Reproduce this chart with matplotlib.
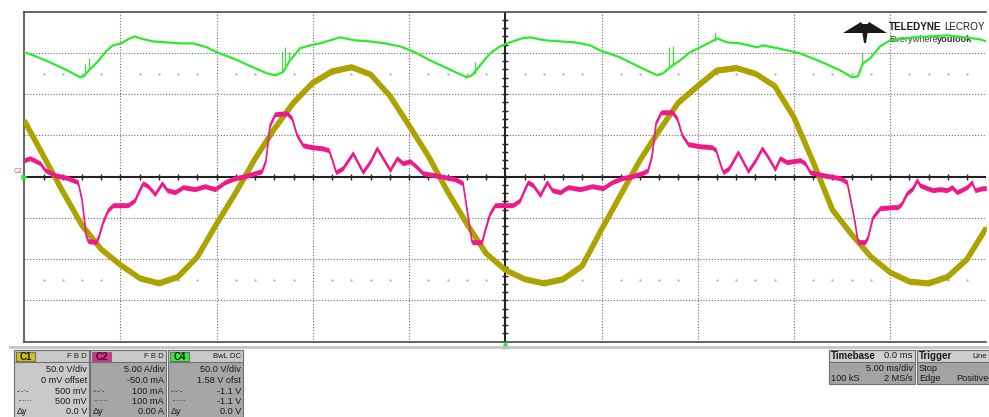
import matplotlib.pyplot as plt
from matplotlib.patches import Rectangle, Polygon
import numpy as np

plt.rcParams["font.family"] = ["Liberation Sans", "DejaVu Sans"]

# channel scales (per division)
C1_VDIV = 50.0
C2_ADIV = 5.0
C4_VDIV = 50.0

# C1 - line voltage [V], one sample per ms
c1_time = [-25, -24, -23, -22, -21, -20, -19, -18, -17, -16, -15, -14, -13,
           -12, -11, -10, -9, -8, -7, -6, -5, -4, -3, -2, -1, 0, 1, 2, 3, 4,
           5, 6, 7, 8, 9, 10, 11, 12, 13, 14, 15, 16, 17, 18, 19, 20, 21, 22,
           23, 24, 25]
c1_volts = [68, 25, -18, -59, -88, -107, -123, -129, -121, -97, -57, -19, 22,
            58, 90, 114, 128, 133, 124, 98, 62, 25, -18, -57, -93, -113, -124,
            -129, -124, -108, -64, -22, 20, 56, 90, 110, 129, 132, 125, 110,
            72, 18, -40, -70, -97, -116, -127, -129, -121, -100, -62]

# C2 - current [A]
c2_time = [-25.0, -24.70, -24.18, -23.92, -23.40, -22.73, -22.21, -22.00,
           -21.79, -21.69, -21.27, -21.12, -20.91, -20.65, -20.39, -19.61,
           -19.25, -19.09, -18.83, -18.57, -18.21, -17.84, -17.58, -17.17,
           -16.75, -16.13, -15.61, -15.09, -14.57, -14.05, -13.53, -13.01,
           -12.65, -12.44, -12.23, -11.97, -11.35, -11.09, -10.83, -10.52,
           -10.05, -9.53, -9.17, -8.96, -8.80, -8.44, -7.92, -7.40, -6.98,
           -6.67, -6.36, -5.99, -5.63, -5.32, -4.95, -4.59, -4.28, -3.40,
           -2.62, -2.20, -1.99, -1.73, -1.21, -1.05, -0.79, -0.53, 0.40, 0.77,
           0.92, 1.18, 1.44, 1.81, 2.17, 2.43, 2.85, 3.26, 3.89, 4.51, 5.08,
           5.55, 6.07, 6.59, 7.11, 7.42, 7.63, 7.84, 8.10, 8.67, 8.93, 9.19,
           9.50, 10.12, 10.75, 10.95, 11.16, 11.32, 11.63, 12.10, 12.62, 13.04,
           13.35, 13.66, 14.02, 14.28, 14.64, 15.32, 15.58, 15.84, 16.52,
           17.40, 17.76, 17.92, 18.18, 18.33, 18.70, 18.85, 19.11, 19.48,
           20.15, 20.41, 20.62, 20.88, 21.19, 21.40, 21.55, 21.92, 22.23,
           22.60, 22.96, 23.22, 23.48, 24.00, 24.26, 24.42, 24.83, 25.0]
c2_amps = [2.0, 2.24, 1.63, 0.79, 0.18, -0.18, -0.67, -2.85, -7.08, -7.81,
           -7.93, -7.21, -5.51, -4.06, -3.45, -3.45, -2.85, -2.00, -0.79,
           -1.15, -2.12, -0.79, -1.63, -1.88, -1.27, -1.51, -1.15, -1.51,
           -0.67, -0.18, 0.06, 0.42, 0.67, 2.0, 6.24, 7.57, 7.69, 7.08, 5.03,
           3.81, 3.57, 3.45, 3.21, 1.76, 0.54, 1.03, 2.85, 0.54, 2.0, 3.45,
           2.24, 0.79, 2.24, 1.63, 1.88, 1.15, 0.42, 0.06, -0.30, -0.79,
           -4.06, -7.93, -7.93, -6.48, -4.42, -3.45, -3.45, -2.85, -2.0,
           -0.67, -1.03, -2.24, -0.67, -1.63, -1.88, -1.27, -1.51, -1.15,
           -1.39, -0.67, -0.18, 0.06, 0.42, 0.79, 2.6, 6.6, 7.81, 7.81, 7.08,
           5.03, 3.94, 3.69, 3.57, 3.21, 1.63, 0.54, 1.03, 2.97, 0.67, 2.12,
           3.45, 2.36, 0.91, 2.24, 1.76, 2.0, 1.63, 0.54, 0.18, -0.18, -0.67,
           -2.48, -5.63, -7.93, -7.93, -7.33, -4.90, -3.81, -3.69, -3.69,
           -3.21, -2.0, -1.39, -0.42, -1.03, -1.39, -1.63, -1.51, -1.63,
           -1.27, -1.88, -1.27, -0.67, -1.63, -1.39, -1.39]

# C4 - rectified bus voltage [V]
c4_time = [-25.0, -24.53, -23.66, -22.78, -22.10, -21.90, -21.74, -21.22,
           -20.70, -20.39, -19.97, -19.51, -19.25, -18.99, -18.31, -17.58,
           -16.91, -16.23, -15.51, -14.99, -14.15, -13.11, -12.39, -11.97,
           -11.56, -11.19, -10.67, -10.15, -9.63, -9.11, -8.59, -7.81, -7.03,
           -6.25, -5.47, -4.69, -3.91, -3.13, -2.46, -1.99, -1.73, -1.31,
           -0.79, -0.27, 0.25, 0.87, 1.29, 2.07, 2.85, 3.63, 4.41, 4.92, 5.96,
           7.00, 7.89, 8.20, 8.56, 9.08, 9.60, 10.12, 10.64, 11.01, 11.53,
           12.20, 13.09, 13.40, 13.92, 14.64, 15.32, 16.36, 17.40, 18.02,
           18.33, 18.59, 18.96, 19.48, 20.00, 21.19, 22.08, 22.96, 23.90,
           24.68, 25.0]
c4_volts = [150.7, 147.1, 138.6, 129.0, 120.5, 121.7, 126.5, 138.6, 153.2,
            159.2, 161.6, 167.7, 170.1, 167.7, 164.0, 162.8, 161.6, 161.6,
            156.8, 150.7, 143.4, 132.6, 125.3, 122.9, 126.5, 141.0, 155.6,
            159.2, 161.6, 165.3, 168.9, 165.3, 164.0, 161.6, 158.0, 150.7,
            141.0, 132.6, 125.3, 120.5, 122.9, 135.0, 149.5, 158.0, 162.8,
            167.7, 168.9, 165.3, 164.0, 162.8, 159.2, 153.2, 144.7, 132.6,
            122.9, 125.3, 132.6, 141.0, 150.7, 156.8, 162.8, 167.7, 162.8,
            161.6, 156.8, 159.2, 156.8, 153.2, 149.5, 139.8, 129.0, 120.5,
            121.7, 137.4, 143.4, 158.0, 165.3, 168.9, 170.1, 171.3, 168.9,
            166.5, 164.0]

# switching spikes on C4
spike_time = [-21.84, -21.63, -11.60, -11.45, -11.24, -1.57, 8.51, 8.72, 10.90, 18.54]
spike_base = [124, 129, 126.5, 130, 138.6, 125, 131.4, 135, 165, 133.8]
spike_top = [136, 143.5, 152, 157, 150.7, 138.6, 156.8, 158, 176, 150.7]

YELLOW = "#ACA300"
PINK = "#EE1A8C"
GREEN = "#2EEA2E"

W, H = 989, 417


def fx(x):
    return x / W


def fy(y):
    return 1 - y / H


def draw_graticule(ax):
    for x in [-20, -15, -10, -5, 5, 10, 15, 20]:
        ax.axvline(x, color="#6a6a6a", ls=(0, (1, 1.6)), lw=0.8, zorder=1)
    for y in [-3, -2, -1, 1, 2, 3]:
        ax.axhline(y, color="#6a6a6a", ls=(0, (1, 1.6)), lw=0.8, zorder=1)

    # centre cross with minor ticks
    ax.axhline(0, color="#222222", lw=1.5, zorder=1.5)
    ax.axvline(0, color="#222222", lw=1.5, zorder=1.5)
    ms_ticks = np.arange(-24, 25)
    ax.plot(ms_ticks, np.zeros_like(ms_ticks), ls="none", marker="|", ms=4,
            mew=1, color="#222222", zorder=1.5)
    div_ticks = np.arange(-3.8, 4.0, 0.2)
    ax.plot(np.zeros_like(div_ticks), div_ticks, ls="none", marker="_", ms=4,
            mew=1, color="#222222", zorder=1.5)

    # faint dot rows at +/- 2.5 div
    dots = [t for t in range(-24, 25) if t % 5 != 0]
    for level in (2.5, -2.5):
        ax.plot(dots, [level] * len(dots), ls="none", marker="s", ms=0.6,
                color="#b0b0b0", zorder=1)

    ax.set_xlim(-25, 25)
    ax.set_ylim(-4, 4)
    ax.set_xticks([])
    ax.set_yticks([])
    for side in ("left", "top", "bottom"):
        ax.spines[side].set_color("#4a4a4a")
        ax.spines[side].set_linewidth(1.2)
    ax.spines["right"].set_visible(False)


def draw_logo(ax, fig):
    tf = fig.transFigure
    shapes = [
        [(843, 33), (861, 22), (863, 25), (863, 33)],
        [(887, 33), (869, 22), (867, 25), (867, 33)],
        [(861, 24), (869, 24), (866, 43), (864, 43)],
    ]
    for pts in shapes:
        ax.add_patch(Polygon([(fx(x), fy(y)) for x, y in pts], closed=True,
                             facecolor="#1a1a1a", lw=0, transform=tf,
                             zorder=1, clip_on=False))
    ax.text(fx(889), fy(27), "TELEDYNE", transform=tf, fontsize=7.1,
            fontweight="bold", color="#1a1a1a", va="center", ha="left", zorder=1)
    ax.text(fx(985), fy(27), "LECROY", transform=tf, fontsize=7.1,
            color="#1a1a1a", va="center", ha="right", zorder=1)
    ax.text(fx(889), fy(40), "Everywhere", transform=tf, fontsize=6.6,
            color="#333333", va="center", ha="left", zorder=1)
    ax.text(fx(937), fy(40), "youlook", transform=tf, fontsize=6.6,
            fontweight="bold", color="#333333", va="center", ha="left", zorder=1)


def draw_traces(ax):
    t1 = np.array(c1_time)
    y1 = np.array(c1_volts) / C1_VDIV
    ax.fill_between(t1, y1 - 0.07, y1 + 0.07, color=YELLOW, lw=0, zorder=3)
    ax.plot(t1, y1, color=YELLOW, lw=4, solid_capstyle="butt", zorder=3)

    t2 = np.array(c2_time)
    y2 = np.array(c2_amps) / C2_ADIV
    ax.fill_between(t2, y2 - 0.06, y2 + 0.06, color=PINK, lw=0, zorder=4)
    ax.plot(t2, y2, color=PINK, lw=1.1, zorder=4)

    t4 = np.array(c4_time)
    y4 = np.array(c4_volts) / C4_VDIV
    ax.plot(t4, y4, color=GREEN, lw=1.6, zorder=5)
    ax.vlines(spike_time, np.array(spike_base) / C4_VDIV,
              np.array(spike_top) / C4_VDIV, color=GREEN, lw=0.8, zorder=5)

    # trigger position and C2 ground marker
    ax.plot(0, -4.09, marker="^", ms=5, color="#22DD22", clip_on=False, zorder=6)
    ax.plot(-25, 0, marker=">", ms=3.5, color=GREEN, clip_on=False, zorder=6)
    ax.text(-25.1, 0.12, "C2", fontsize=5, color="#c8508a", ha="right",
            va="center", zorder=6)


def box(fig, x0, y0, x1, y1, color):
    fig.add_artist(Rectangle((fx(x0), fy(y1)), (x1 - x0) / W, (y1 - y0) / H,
                             transform=fig.transFigure, facecolor=color,
                             edgecolor="#707070", lw=0.8))


def label(fig, x, y, s, ha="right", size=6.6, weight="normal"):
    fig.text(fx(x), fy(y), s, fontsize=size, ha=ha, va="center",
             fontweight=weight, color="#1a1a1a")


def draw_channel_box(fig, x0, x1, name, tag_color, flags, rows, light_body):
    box(fig, x0, 350, x1, 418, "#c9c9c9" if light_body else "#a6a6a6")
    box(fig, x0, 350, x1, 362, "#c9c9c9")
    box(fig, x0 + 2, 352, x0 + 21, 361, tag_color)
    label(fig, x0 + 11.5, 356.5, name, ha="center", size=7, weight="bold")
    label(fig, x1 - 2, 356.5, flags, size=5.6)
    for y, s in zip([370, 380.5, 391.5, 401.5, 411], rows):
        label(fig, x1 - 2, y, s)
    label(fig, x0 + 3, 391.5, "-·-·-", ha="left", size=5.5)
    label(fig, x0 + 3, 401.5, "······", ha="left", size=5.5)
    label(fig, x0 + 3, 411, "Δy", ha="left")


def draw_info(fig):
    fig.add_artist(plt.Line2D([fx(10), fx(989)], [fy(347), fy(347)],
                              transform=fig.transFigure, color="#c4c4c4", lw=2))

    draw_channel_box(fig, 14, 89, "C1", "#CFC400", "F B D",
                     ["50.0 V/div", "0 mV offset", "500 mV", "500 mV", "0.0 V"], True)
    draw_channel_box(fig, 90, 166, "C2", "#F0208E", "F B D",
                     ["5.00 A/div", "-50.0 mA", "100 mA", "100 mA", "0.00 A"], False)
    draw_channel_box(fig, 168, 243, "C4", "#33EE33", "BwL DC",
                     ["50.0 V/div", "1.58 V ofst", "-1.1 V", "-1.1 V", "0.0 V"], False)

    # timebase
    box(fig, 829, 350, 915, 384, "#a3a3a3")
    box(fig, 829, 350, 915, 362, "#cfcfcf")
    label(fig, 831, 356, "Timebase", ha="left", size=7, weight="bold")
    label(fig, 913, 356, "0.0 ms", size=6.8)
    label(fig, 913, 368.5, "5.00 ms/div")
    label(fig, 831, 378.5, "100 kS", ha="left")
    label(fig, 913, 378.5, "2 MS/s")

    # trigger
    box(fig, 917, 350, 992, 384, "#a3a3a3")
    box(fig, 917, 350, 992, 362, "#cfcfcf")
    label(fig, 919, 356, "Trigger", ha="left", size=7, weight="bold")
    label(fig, 987, 356, "Line", size=5.6)
    label(fig, 919, 368.5, "Stop", ha="left")
    label(fig, 919, 378.5, "Edge", ha="left")
    label(fig, 989, 378.5, "Positive")


def main():
    fig = plt.figure(figsize=(W / 100, H / 100), dpi=100)
    ax = fig.add_axes([24.3 / W, 1 - 341.7 / H, 962 / W, 330 / H])

    draw_graticule(ax)
    draw_logo(ax, fig)
    draw_traces(ax)
    draw_info(fig)

    fig.savefig("out.png", dpi=100)


if __name__ == "__main__":
    main()
